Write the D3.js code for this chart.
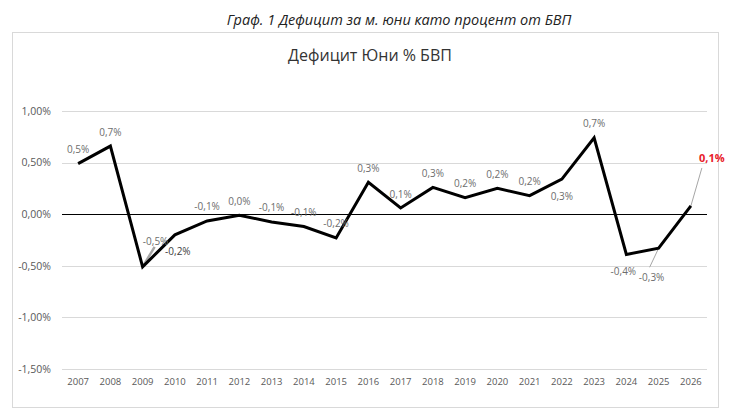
<!DOCTYPE html>
<html lang="bg">
<head>
  <meta charset="UTF-8">
  <title>Дефицит Юни % БВП</title>
  <script src="https://d3js.org/d3.v7.min.js"></script>
  <style>
    body { margin: 0; background: #fff; }
    svg { display: block; font-family: "Open Sans", "Noto Sans", sans-serif; }
  </style>
</head>
<body>
  <svg width="740" height="414"></svg>

  <script>
    // Data
    const years = ["2007", "2008", "2009", "2010", "2011", "2012", "2013", "2014", "2015", "2016",
                   "2017", "2018", "2019", "2020", "2021", "2022", "2023", "2024", "2025", "2026"];
    const deficit = [0.49, 0.66, -0.51, -0.20, -0.065, -0.01, -0.075, -0.12, -0.23, 0.31,
                     0.06, 0.26, 0.16, 0.25, 0.18, 0.34, 0.74, -0.39, -0.33, 0.08];
    const pointLabels = ["0,5%", "0,7%", "-0,5%", "-0,2%", "-0,1%", "0,0%", "-0,1%", "-0,1%", "-0,2%", "0,3%",
                         "0,1%", "0,3%", "0,2%", "0,2%", "0,2%", "0,3%", "0,7%", "-0,4%", "-0,3%", "0,1%"];
    const yTicks = [1.0, 0.5, 0.0, -0.5, -1.0, -1.5];

    const svg = d3.select("svg");
    const margin = {top: 111, right: 33, bottom: 45, left: 62};
    const width = 740, height = 414;

    // outer caption
    svg.append("text")
      .attr("x", 399).attr("y", 25)
      .attr("text-anchor", "middle")
      .style("font-style", "italic")
      .style("font-size", "14.5px")
      .style("fill", "#222")
      .text("Граф. 1 Дефицит за м. юни като процент от БВП");

    // chart frame
    svg.append("rect")
      .attr("x", 12.5).attr("y", 32.5)
      .attr("width", 706).attr("height", 375)
      .attr("fill", "none")
      .attr("stroke", "#d9d9d9");

    svg.append("text")
      .attr("x", 370).attr("y", 61)
      .attr("text-anchor", "middle")
      .style("font-size", "16px")
      .style("fill", "#333")
      .text("Дефицит Юни % БВП");

    const x = d3.scaleBand()
      .domain(years)
      .range([margin.left, width - margin.right]);

    const y = d3.scaleLinear()
      .domain([-1.5, 1.0])
      .range([369, margin.top]);

    // gridlines
    svg.append("g")
      .selectAll("line")
      .data(yTicks.filter(d => d !== 0))
      .join("line")
      .attr("x1", margin.left).attr("x2", width - margin.right)
      .attr("y1", d => Math.round(y(d)) + 0.5).attr("y2", d => Math.round(y(d)) + 0.5)
      .attr("stroke", "#d9d9d9");

    // y axis labels
    const yAxis = svg.append("g")
      .attr("transform", `translate(${margin.left - 8},0)`)
      .call(d3.axisLeft(y).tickValues(yTicks).tickSize(0)
        .tickFormat(d => d3.format(".2f")(d).replace(".", ",").replace("−", "-") + "%"));
    yAxis.select(".domain").remove();
    yAxis.selectAll("text")
      .style("font-family", "\"Open Sans\", sans-serif")
      .style("font-size", "10.5px")
      .style("fill", "#595959");

    // x axis labels
    const xAxis = svg.append("g")
      .attr("transform", `translate(0,${y(-1.5) + 6})`)
      .call(d3.axisBottom(x).tickSize(0));
    xAxis.select(".domain").remove();
    xAxis.selectAll("text")
      .style("font-family", "\"Open Sans\", sans-serif")
      .style("font-size", "9.5px")
      .style("fill", "#595959");

    // zero line
    svg.append("line")
      .attr("x1", margin.left).attr("x2", width - margin.right)
      .attr("y1", Math.round(y(0)) + 0.5).attr("y2", Math.round(y(0)) + 0.5)
      .attr("stroke", "#000").attr("stroke-width", 1.2);

    const cx = i => x(years[i]) + x.bandwidth() / 2;

    // leader lines for displaced labels
    const leaders = [
      {i: 2, dx: 12, dy: -20},
      {i: 18, dx: -9, dy: 19},
      {i: 19, dx: 11, dy: -38}
    ];
    svg.append("g")
      .selectAll("line")
      .data(leaders)
      .join("line")
      .attr("x1", d => cx(d.i)).attr("y1", d => y(deficit[d.i]))
      .attr("x2", d => cx(d.i) + d.dx).attr("y2", d => y(deficit[d.i]) + d.dy)
      .attr("stroke", "#a6a6a6").attr("stroke-width", d => d.i === 2 ? 2.5 : 1);

    // main line
    svg.append("path")
      .datum(deficit)
      .attr("fill", "none")
      .attr("stroke", "#000")
      .attr("stroke-width", 3)
      .attr("stroke-linejoin", "miter")
      .attr("d", d3.line().x((d, i) => cx(i)).y(d => y(d)));

    // label offsets relative to the point
    const offsets = {2: [13, -25], 3: [3, 17], 15: [0, 17], 17: [-3, 17], 18: [-7, 29], 19: [21, -48]};

    svg.append("g")
      .selectAll("text")
      .data(pointLabels)
      .join("text")
      .attr("x", (d, i) => cx(i) + (offsets[i] ? offsets[i][0] : 0))
      .attr("y", (d, i) => y(deficit[i]) + (offsets[i] ? offsets[i][1] : -14))
      .attr("dy", "0.35em")
      .attr("text-anchor", "middle")
      .style("font-size", (d, i) => i === 19 ? "11px" : "10px")
      .style("font-weight", (d, i) => i === 19 ? "bold" : "normal")
      .style("fill", (d, i) => i === 19 ? "#e8202a" : (i === 3 ? "#404040" : "#6d6d6d"))
      .text(d => d);
  </script>
</body>
</html>
